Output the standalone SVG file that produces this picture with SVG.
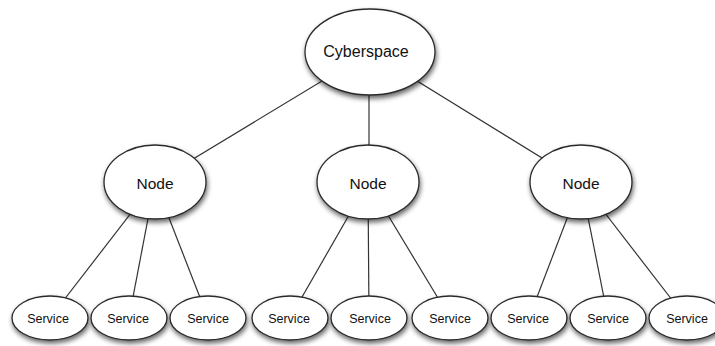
<svg xmlns="http://www.w3.org/2000/svg" width="715" height="346" viewBox="0 0 715 346">
  <defs>
    <filter id="drop" x="-20%" y="-20%" width="140%" height="150%">
      <feGaussianBlur in="SourceAlpha" stdDeviation="2.5"/>
      <feOffset dx="1" dy="3" result="b"/>
      <feComponentTransfer><feFuncA type="linear" slope="0.6"/></feComponentTransfer>
      <feMerge><feMergeNode/><feMergeNode in="SourceGraphic"/></feMerge>
    </filter>
  </defs>
  <style>
    .bubble { fill: #fff; stroke: #2a2a2a; stroke-width: 1.3; filter: url(#drop); }
    .link { stroke: #333; stroke-width: 1.2; fill: none; }
    .lbl { font-family: "Liberation Sans", Arial, sans-serif; fill: #111; text-anchor: middle; dominant-baseline: central; }
    .big { font-size: 16px; }
    .mid { font-size: 15.5px; }
    .small { font-size: 12.5px; }
  </style>
  <rect width="715" height="346" fill="#fff"/>

  <!-- tree edges, centre to centre; the ellipses cover the ends -->
  <g id="connectors">
    <line class="link" x1="370" y1="52" x2="155" y2="182"/>
    <line class="link" x1="369" y1="52" x2="369" y2="182"/>
    <line class="link" x1="370" y1="52" x2="581" y2="182"/>

    <line class="link" x1="155" y1="182" x2="50" y2="318"/>
    <line class="link" x1="155" y1="182" x2="129" y2="318"/>
    <line class="link" x1="155" y1="182" x2="208" y2="318"/>

    <line class="link" x1="368" y1="182" x2="290" y2="318"/>
    <line class="link" x1="368" y1="182" x2="369" y2="318"/>
    <line class="link" x1="368" y1="182" x2="450" y2="318"/>

    <line class="link" x1="581" y1="182" x2="529" y2="318"/>
    <line class="link" x1="581" y1="182" x2="608" y2="318"/>
    <line class="link" x1="581" y1="182" x2="686" y2="318"/>
  </g>

  <g id="cyberspace">
    <ellipse class="bubble" cx="370" cy="52" rx="65" ry="43"/>
    <text class="lbl big" x="366" y="51">Cyberspace</text>
  </g>

  <g id="node-left">
    <ellipse class="bubble" cx="155" cy="182" rx="51" ry="37"/>
    <text class="lbl mid" x="155" y="183">Node</text>
  </g>
  <g id="node-middle">
    <ellipse class="bubble" cx="368" cy="182" rx="51" ry="37"/>
    <text class="lbl mid" x="368" y="183">Node</text>
  </g>
  <g id="node-right">
    <ellipse class="bubble" cx="581" cy="182" rx="51" ry="37"/>
    <text class="lbl mid" x="581" y="183">Node</text>
  </g>

  <g id="service-1"><ellipse class="bubble" cx="50" cy="318" rx="38" ry="22"/><text class="lbl small" x="48" y="319">Service</text></g>
  <g id="service-2"><ellipse class="bubble" cx="129" cy="318" rx="38" ry="22"/><text class="lbl small" x="128" y="319">Service</text></g>
  <g id="service-3"><ellipse class="bubble" cx="208" cy="318" rx="38" ry="22"/><text class="lbl small" x="208" y="319">Service</text></g>
  <g id="service-4"><ellipse class="bubble" cx="290" cy="318" rx="38" ry="22"/><text class="lbl small" x="289" y="319">Service</text></g>
  <g id="service-5"><ellipse class="bubble" cx="369" cy="318" rx="38" ry="22"/><text class="lbl small" x="370" y="319">Service</text></g>
  <g id="service-6"><ellipse class="bubble" cx="450" cy="318" rx="38" ry="22"/><text class="lbl small" x="450" y="319">Service</text></g>
  <g id="service-7"><ellipse class="bubble" cx="529" cy="318" rx="38" ry="22"/><text class="lbl small" x="528" y="319">Service</text></g>
  <g id="service-8"><ellipse class="bubble" cx="608" cy="318" rx="38" ry="22"/><text class="lbl small" x="608" y="319">Service</text></g>
  <g id="service-9"><ellipse class="bubble" cx="687" cy="318" rx="38" ry="22"/><text class="lbl small" x="687" y="319">Service</text></g>
</svg>
